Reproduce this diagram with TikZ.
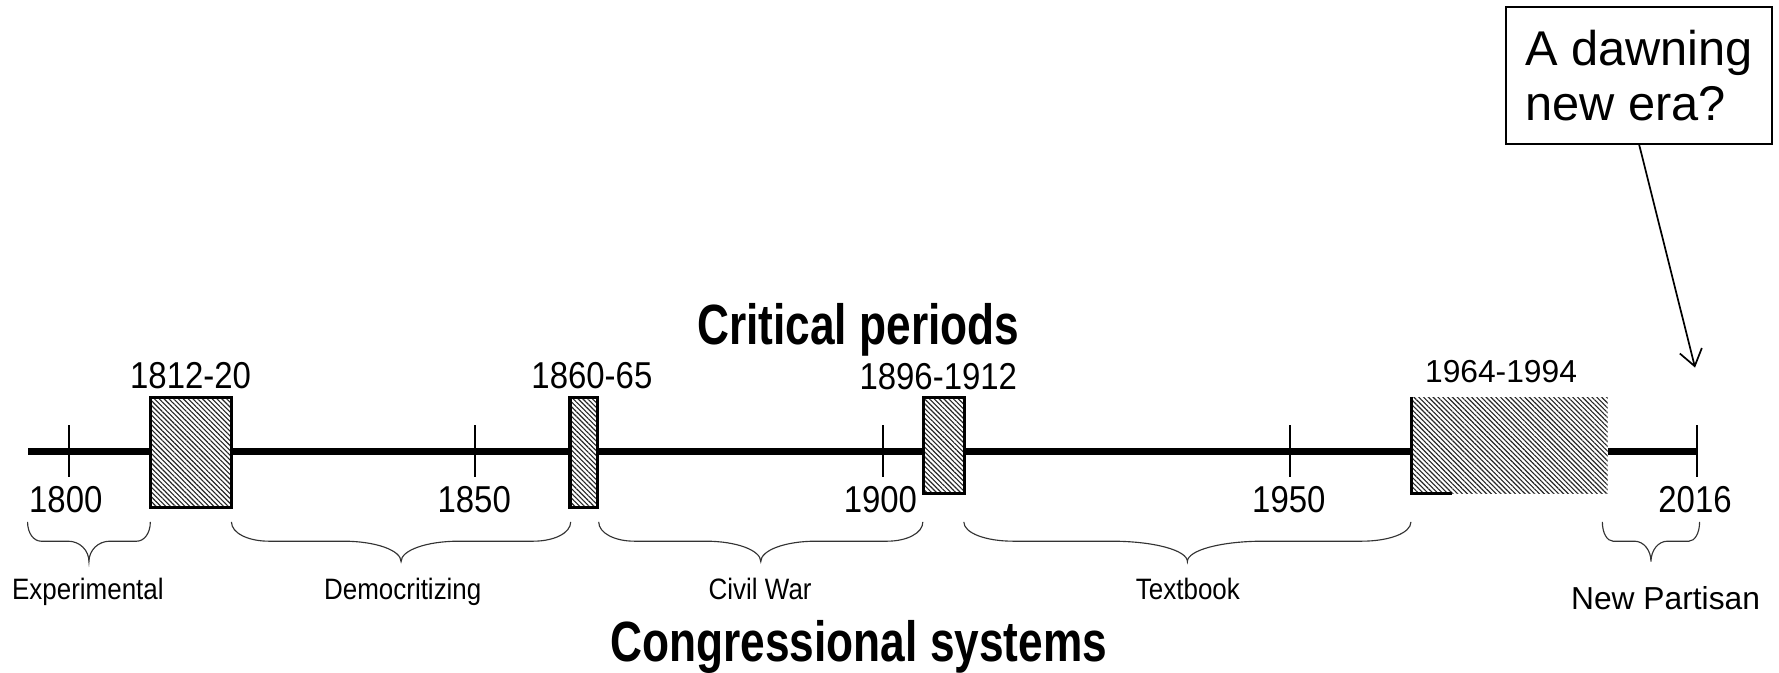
\documentclass[tikz,border=0pt]{standalone}
\usepackage{fontspec}
\setmainfont{Liberation Sans}
\newfontfamily\narrowfont[FakeStretch=0.88]{Liberation Sans}
\newfontfamily\titlefont[FakeStretch=0.78]{Liberation Sans}
\usepackage{tikz}
\usetikzlibrary{positioning, arrows.meta, patterns.meta}

% brace under one congressional system: left x, right x
\newcommand{\sysbrace}[2]{%
  \draw[sysbrace] (#1,460) .. controls (#1,470) and ({#1+0.05*(#2-#1)},477) .. ({#1+0.11*(#2-#1)},477)
    -- ({(#1+#2)/2-0.17*(#2-#1)},477) .. controls ({(#1+#2)/2-0.075*(#2-#1)},477) and ({(#1+#2)/2},485) .. ({(#1+#2)/2},495)
    .. controls ({(#1+#2)/2},485) and ({(#1+#2)/2+0.075*(#2-#1)},477) .. ({(#1+#2)/2+0.17*(#2-#1)},477)
    -- ({#2-0.11*(#2-#1)},477) .. controls ({#2-0.05*(#2-#1)},477) and (#2,470) .. (#2,460);
}

\tikzset{
  year/.style={font=\narrowfont\fontsize{33}{40}\selectfont, inner sep=0pt, anchor=base},
  syslabel/.style={font=\narrowfont\fontsize{26}{31}\selectfont, inner sep=0pt, anchor=base},
  heading/.style={font=\titlefont\bfseries\fontsize{50}{60}\selectfont, inner sep=0pt, anchor=base},
  hatch/.style={preaction={fill=white}, pattern={Lines[angle=-45, distance=3pt, line width=1pt]}, pattern color=black!85, inner sep=0pt},
  period/.style={hatch, draw, line width=2.7pt},
  tick/.style={line width=1.8pt},
  sysbrace/.style={line width=1pt, black!80},
}

\begin{document}
\begin{tikzpicture}[x=1pt, y=-1pt, >=Stealth]
  \useasboundingbox (0,0) rectangle (1568,593);

  % time axis
  \coordinate (start) at (25,398);
  \coordinate (end) at (1496,398);
  \draw[line width=6.8pt] (start) -- (end);

  \draw[tick] (61,375) -- (61,420);
  \draw[tick] (419,375) -- (419,420);
  \draw[tick] (778,375) -- (778,420);
  \draw[tick] (1137,375) -- (1137,420);
  \draw[tick] (1496,375) -- (1496,420);

  \node[year] (y1800) at (58,452) {1800};
  \node[year] (y1850) at (418,452) {1850};
  \node[year] (y1900) at (776,452) {1900};
  \node[year] (y1950) at (1136,452) {1950};
  \node[year] (y2016) at (1494,452) {2016};

  % critical periods
  \node[period, minimum width=71.5pt, minimum height=97pt] (crit1812) at (168.3,398.5) {};
  \node[period, minimum width=24.6pt, minimum height=97pt] (crit1860) at (514.7,398.5) {};
  \node[period, minimum width=36.5pt, minimum height=85pt] (crit1896) at (832,392.5) {};
  \node[hatch, minimum width=173pt, minimum height=85pt] (crit1964) at (1330.5,392.5) {};
  \draw[line width=2.7pt] (crit1964.north west) -- (crit1964.south west) -- ++(36,0);

  \node[year] (l1812) at (168,342) {1812-20};
  \node[year] (l1860) at (521.7,342) {1860-65};
  \node[year] (l1896) at (827,343.7) {1896-1912};
  \node[font=\fontsize{28}{33}\selectfont, inner sep=0pt, anchor=base] (l1964) at (1323,337) {1964-1994};

  \node[heading] (critical) at (756.5,304) {Critical periods};

  % congressional systems
  \sysbrace{24.3}{132.5}
  \sysbrace{204}{503}
  \sysbrace{527.7}{813.4}
  \sysbrace{849.5}{1243.6}
  \sysbrace{1412.3}{1498}

  \node[syslabel] (experimental) at (77.5,528) {Experimental};
  \node[syslabel] (democ) at (355,528) {Democritizing};
  \node[syslabel] (civilwar) at (670,528) {Civil War};
  \node[syslabel] (textbook) at (1047,528) {Textbook};
  \node[font=\fontsize{28}{33}\selectfont, inner sep=0pt, anchor=base] (partisan) at (1468,537) {New Partisan};

  \node[heading] (systems) at (757,583) {Congressional systems};

  % callout
  \node[draw, line width=1.6pt, minimum width=234.3pt, minimum height=120.6pt, align=left,
        font=\fontsize{43}{49}\selectfont] (era) at (1444.8,66.7) {A dawning\\new era?};
  \coordinate (eratip) at (1494,324);
  \draw[line width=1.5pt, -{Straight Barb[length=14pt, width=20pt]}] (era.south) -- (eratip);

\end{tikzpicture}
\end{document}
